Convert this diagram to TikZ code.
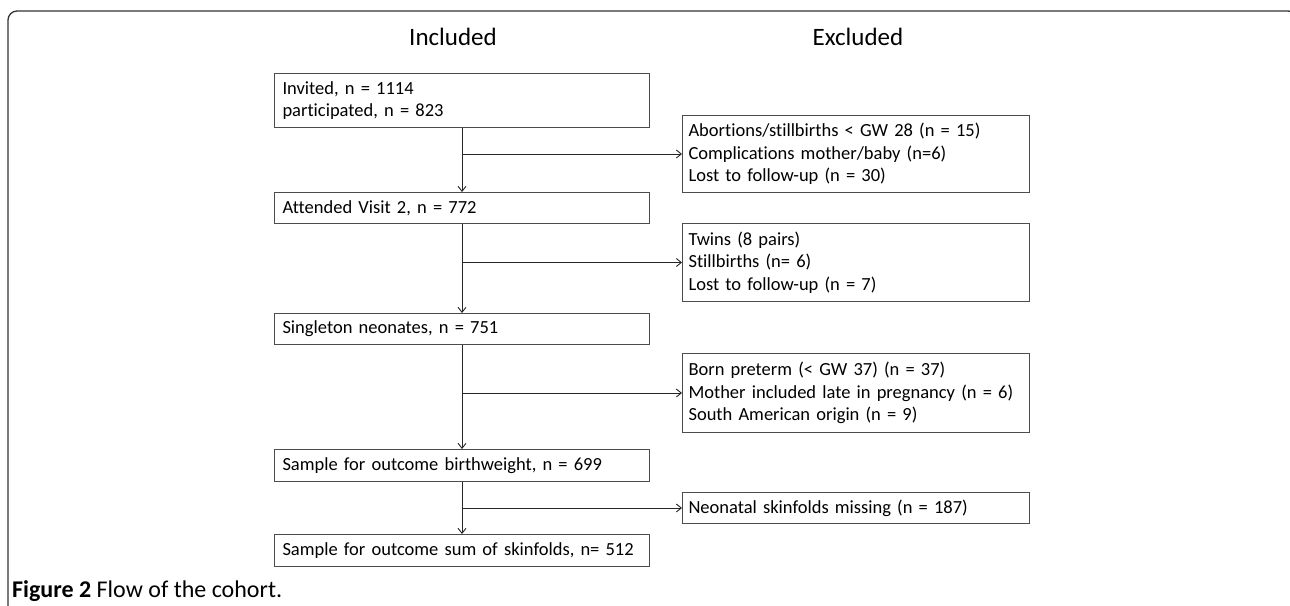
\documentclass[tikz,border=0pt]{standalone}
\usepackage{fontspec}
\setmainfont[Ligatures=NoCommon]{Carlito}
\usetikzlibrary{arrows.meta}
\begin{document}
\begin{tikzpicture}[
        x=1pt, y=-1pt,
        >={Straight Barb[length=5pt,width=8pt]},
        incl box/.style={draw=black!70, line width=1pt, anchor=north west, inner ysep=0pt, inner xsep=8pt, minimum width=375pt, text width=359pt, align=left, font=\fontsize{18.5}{22.5}\selectfont},
        excl box/.style={incl box, inner xsep=6pt, minimum width=347pt, text width=335pt},
        heading/.style={anchor=base, font=\fontsize{25}{30}\selectfont},
        flow/.style={->, line width=0.9pt, black!85}
    ]
    \useasboundingbox (0,0) rectangle (1290,605);

    % Frame
    \draw[line width=1.3pt, black!80, rounded corners=9pt] (8,610) -- (8,11) -- (1297,11) -- (1297,610);

    % Headings
    \node[heading] (head-in) at (453,45) {Included};
    \node[heading] (head-ex) at (858,45) {Excluded};

    % Included column
    \node[incl box, minimum height=54pt] (inv) at (274,73) {Invited, n = 1114\\participated, n = 823};
    \node[incl box, minimum height=31pt] (visit) at (274,192) {Attended Visit 2, n = 772};
    \node[incl box, minimum height=31pt] (single) at (274,313) {Singleton neonates, n = 751};
    \node[incl box, minimum height=32pt] (birth) at (274,449) {Sample for outcome birthweight, n = 699};
    \node[incl box, minimum height=32pt] (skin) at (274,534) {Sample for outcome sum of skinfolds, n= 512};

    % Excluded column
    \node[excl box, minimum height=77pt] (ex-1) at (682,115) {Abortions/stillbirths < GW 28 (n = 15)\\Complications mother/baby (n=6)\\Lost to follow-up (n = 30)};
    \node[excl box, minimum height=78pt] (ex-2) at (682,223) {Twins (8 pairs)\\Stillbirths (n= 6)\\Lost to follow-up (n = 7)};
    \node[excl box, minimum height=79pt] (ex-3) at (682,353) {Born preterm (< GW 37) (n = 37)\\\mbox{Mother included late in pregnancy (n = 6)}\\South American origin (n = 9)};
    \node[excl box, minimum height=31pt] (ex-4) at (682,492) {Neonatal skinfolds missing (n = 187)};

    % Main flow
    \draw[flow] (inv) -- (visit);
    \draw[flow] (visit) -- (single);
    \draw[flow] (single) -- (birth);
    \draw[flow] (birth) -- (skin);

    % Exclusions
    \draw[flow] (inv.south |- ex-1.west) -- (ex-1.west);
    \draw[flow] (visit.south |- ex-2.west) -- (ex-2.west);
    \draw[flow] (single.south |- ex-3.west) -- (ex-3.west);
    \draw[flow] (birth.south |- ex-4.west) -- (ex-4.west);

    % Caption
    \node[anchor=base west, inner sep=0pt, font=\fontsize{24}{28}\selectfont] (caption) at (12,597) {\textbf{Figure 2} Flow of the cohort.};

\end{tikzpicture}
\end{document}
